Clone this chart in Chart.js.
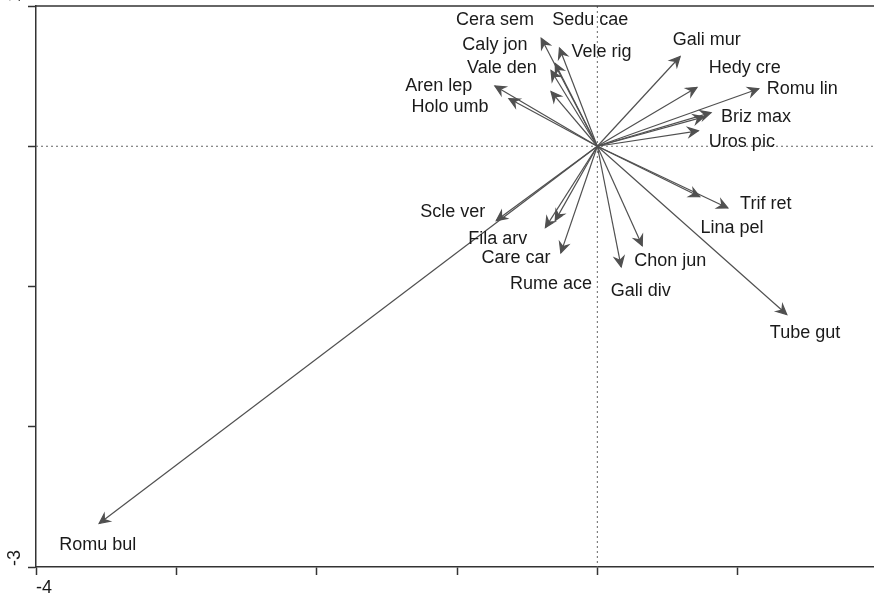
<!DOCTYPE html>
<html>
<head>
<meta charset="utf-8">
<script src="https://cdn.jsdelivr.net/npm/chart.js@4"></script>
<style>
  html, body { margin: 0; padding: 0; background: #fff; overflow: hidden; }
  #wrap { position: absolute; left: 0; top: 0; width: 900px; height: 600px; }
</style>
</head>
<body>
<div id="wrap"><canvas id="chart"></canvas></div>
<script>
// species scores (arrow tips)
const species = ["Cera sem", "Sedu cae", "Caly jon", "Vele rig", "Vale den", "Aren lep", "Holo umb",
  "Gali mur", "Hedy cre", "Romu lin", "Briz max", "", "Uros pic",
  "Trif ret", "Lina pel", "Tube gut", "Chon jun", "Gali div",
  "Rume ace", "Care car", "Fila arv", "Scle ver", "Romu bul"];
const tipX = [-0.40, -0.27, -0.30, -0.33, -0.33, -0.73, -0.63,
  0.59, 0.71, 1.15, 0.81, 0.76, 0.72,
  0.93, 0.73, 1.35, 0.32, 0.17,
  -0.26, -0.37, -0.30, -0.72, -3.55];
const tipY = [0.77, 0.70, 0.59, 0.54, 0.39, 0.43, 0.34,
  0.64, 0.42, 0.41, 0.24, 0.21, 0.11,
  -0.44, -0.36, -1.20, -0.71, -0.86,
  -0.76, -0.58, -0.53, -0.53, -2.69];
// where the names are written
const labelX = [-0.73, -0.05, -0.73, 0.03, -0.68, -1.13, -1.05,
  0.78, 1.05, 1.46, 1.13, 0, 1.03,
  1.20, 0.96, 1.48, 0.52, 0.31,
  -0.33, -0.58, -0.71, -1.03, -3.56];
const labelY = [0.90, 0.90, 0.72, 0.67, 0.56, 0.43, 0.28,
  0.76, 0.56, 0.41, 0.21, 0, 0.03,
  -0.41, -0.58, -1.33, -0.82, -1.03,
  -0.98, -0.80, -0.66, -0.47, -2.84];
const xTickLabels = { "-4": "-4", "2": "2" };
const yTickLabels = { "-3": "-3", "1": "1" };

const lineColor = "#505050";
const axisColor = "#333";

const datasets = species.map((name, i) => ({
  label: name,
  data: [{ x: 0, y: 0 }, { x: tipX[i], y: tipY[i] }],
  showLine: true,
  borderColor: lineColor,
  borderWidth: 1.2,
  pointRadius: 0,
  fill: false,
}));

// dotted zero lines + top line of the box
const framePlugin = {
  id: "frame",
  beforeDatasetsDraw(chart) {
    const { ctx, chartArea, scales } = chart;
    const x0 = scales.x.getPixelForValue(0);
    const y0 = scales.y.getPixelForValue(0);
    ctx.save();
    ctx.strokeStyle = "#666";
    ctx.lineWidth = 1;
    ctx.setLineDash([2, 3]);
    ctx.beginPath();
    ctx.moveTo(x0, chartArea.top);
    ctx.lineTo(x0, chartArea.bottom);
    ctx.moveTo(chartArea.left, y0);
    ctx.lineTo(chartArea.right, y0);
    ctx.stroke();
    ctx.setLineDash([]);
    ctx.strokeStyle = axisColor;
    ctx.lineWidth = 1.5;
    ctx.beginPath();
    ctx.moveTo(chartArea.left, chartArea.top);
    ctx.lineTo(chartArea.right + 20, chartArea.top);
    ctx.stroke();
    ctx.restore();
  },
};

// arrow heads and species names
const arrowPlugin = {
  id: "arrows",
  afterDatasetsDraw(chart) {
    const { ctx, scales } = chart;
    ctx.save();
    chart.data.datasets.forEach((ds, i) => {
      const pts = chart.getDatasetMeta(i).data;
      const a = pts[0], b = pts[1];
      const ang = Math.atan2(b.y - a.y, b.x - a.x);
      const len = 11;
      const spread = Math.PI / 7;
      ctx.strokeStyle = lineColor;
      ctx.fillStyle = lineColor;
      ctx.lineWidth = 1.2;
      ctx.beginPath();
      ctx.moveTo(b.x - len * Math.cos(ang - spread), b.y - len * Math.sin(ang - spread));
      ctx.lineTo(b.x, b.y);
      ctx.lineTo(b.x - len * Math.cos(ang + spread), b.y - len * Math.sin(ang + spread));
      ctx.lineTo(b.x - len * 0.6 * Math.cos(ang), b.y - len * 0.6 * Math.sin(ang));
      ctx.closePath();
      ctx.fill();
      ctx.stroke();
    });
    ctx.font = '18px "Liberation Sans", Arial, sans-serif';
    ctx.fillStyle = "#1a1a1a";
    ctx.textAlign = "center";
    ctx.textBaseline = "middle";
    species.forEach((name, i) => {
      if (!name) return;
      ctx.fillText(name, scales.x.getPixelForValue(labelX[i]), scales.y.getPixelForValue(labelY[i]));
    });
    ctx.restore();
  },
};

new Chart(document.getElementById("chart"), {
  type: "scatter",
  data: { datasets: datasets },
  options: {
    responsive: true,
    maintainAspectRatio: false,
    animation: false,
    events: [],
    layout: { padding: { top: 6, right: 22, left: 0, bottom: 0 } },
    plugins: { legend: { display: false }, tooltip: { enabled: false } },
    scales: {
      x: {
        type: "linear",
        min: -4,
        max: 2,
        afterFit: (s) => { s.height = 33; s.paddingLeft = 0; s.paddingRight = 0; },
        border: { display: true, color: axisColor, width: 1.5 },
        grid: { drawOnChartArea: false, drawTicks: true, tickLength: 8, tickColor: axisColor, tickWidth: 1.5 },
        ticks: {
          stepSize: 1,
          autoSkip: false,
          maxRotation: 0,
          padding: 2,
          labelOffset: 8,
          color: "#1a1a1a",
          font: { family: '"Liberation Sans", Arial, sans-serif', size: 18 },
          callback: (v) => xTickLabels[String(v)] || "",
        },
      },
      y: {
        type: "linear",
        min: -3,
        max: 1,
        afterFit: (s) => { s.width = 36; s.paddingTop = 0; s.paddingBottom = 0; },
        border: { display: true, color: axisColor, width: 1.5 },
        grid: { drawOnChartArea: false, drawTicks: true, tickLength: 8, tickColor: axisColor, tickWidth: 1.5 },
        ticks: {
          stepSize: 1,
          autoSkip: false,
          minRotation: 90,
          maxRotation: 90,
          crossAlign: "center",
          padding: 5,
          labelOffset: -9,
          color: "#1a1a1a",
          font: { family: '"Liberation Sans", Arial, sans-serif', size: 18 },
          callback: (v) => yTickLabels[String(v)] || "",
        },
      },
    },
  },
  plugins: [framePlugin, arrowPlugin],
});
</script>
</body>
</html>
